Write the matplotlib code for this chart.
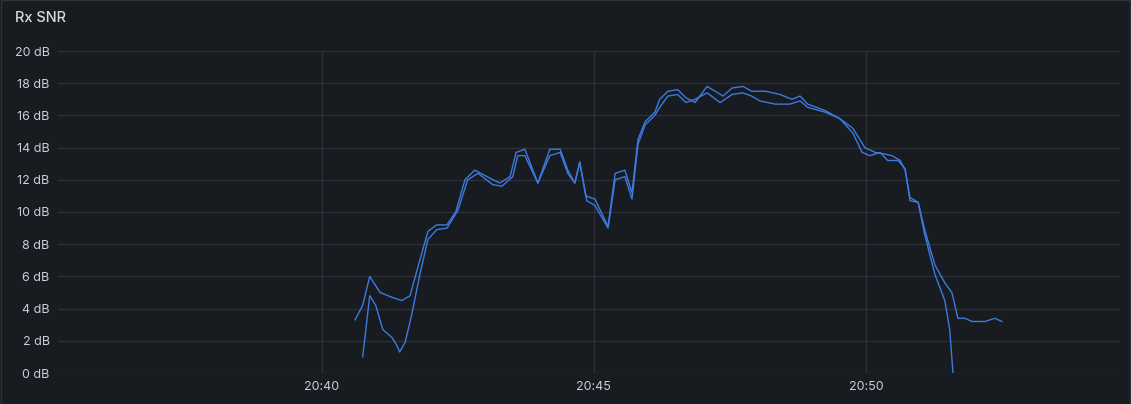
import matplotlib
matplotlib.use('Agg')
import matplotlib.pyplot as plt
from matplotlib.patches import Rectangle

plt.rcParams['font.family'] = ['Inter', 'DejaVu Sans']

# minutes after 20:40, SNR in dB
t_a = [0.61, 0.75, 0.88, 1.07, 1.29, 1.47, 1.62, 1.80, 1.95, 2.11, 2.30, 2.46, 2.63, 2.81,
       3.09, 3.27, 3.46, 3.57, 3.73, 3.97, 4.19, 4.38, 4.52, 4.65, 4.74, 4.85, 5.02, 5.26,
       5.39, 5.57, 5.70, 5.81, 5.94, 6.12, 6.21, 6.36, 6.54, 6.69, 6.86, 7.08, 7.28, 7.37,
       7.54, 7.74, 7.90, 8.16, 8.42, 8.64, 8.79, 8.93, 9.25, 9.52, 9.76, 9.98, 10.17, 10.35,
       10.48, 10.63, 10.72, 10.81, 10.96, 11.08, 11.27, 11.45, 11.58, 11.69, 11.82, 11.95,
       12.19, 12.37, 12.50]
snr_a = [3.3, 4.2, 6.0, 5.0, 4.7, 4.5, 4.8, 7.0, 8.8, 9.2, 9.2, 10.0, 12.0, 12.6,
         12.1, 11.8, 12.2, 13.7, 13.9, 11.8, 13.9, 13.9, 12.6, 11.8, 13.1, 11.0, 10.8, 9.1,
         12.4, 12.6, 11.2, 14.5, 15.6, 16.2, 17.0, 17.5, 17.6, 17.1, 16.8, 17.8, 17.4, 17.2,
         17.7, 17.8, 17.5, 17.5, 17.3, 17.0, 17.2, 16.7, 16.3, 15.8, 15.2, 14.0, 13.7, 13.6,
         13.5, 13.2, 12.6, 10.9, 10.6, 8.9, 6.7, 5.6, 5.0, 3.4, 3.4, 3.2,
         3.2, 3.4, 3.2]

t_b = [0.75, 0.88, 0.99, 1.12, 1.29, 1.38, 1.43, 1.53, 1.65, 1.80, 1.95, 2.11, 2.30, 2.50,
       2.68, 2.87, 3.14, 3.31, 3.51, 3.60, 3.73, 3.97, 4.19, 4.38, 4.52, 4.65, 4.74, 4.87,
       5.02, 5.26, 5.39, 5.57, 5.70, 5.81, 5.94, 6.12, 6.21, 6.36, 6.54, 6.69, 6.86, 7.08,
       7.32, 7.54, 7.74, 7.90, 8.05, 8.33, 8.60, 8.79, 8.93, 9.25, 9.52, 9.76, 9.93, 10.07,
       10.26, 10.40, 10.59, 10.72, 10.81, 10.96, 11.08, 11.27, 11.45, 11.54, 11.60]
snr_b = [1.0, 4.8, 4.2, 2.7, 2.2, 1.7, 1.3, 1.9, 3.6, 6.1, 8.3, 8.9, 9.0, 10.1,
         12.0, 12.4, 11.7, 11.6, 12.2, 13.5, 13.5, 11.8, 13.5, 13.7, 12.4, 11.8, 13.1, 10.7,
         10.4, 9.0, 12.0, 12.2, 10.8, 14.2, 15.4, 16.0, 16.5, 17.2, 17.3, 16.8, 17.0, 17.4,
         16.8, 17.3, 17.4, 17.2, 16.9, 16.7, 16.7, 16.9, 16.5, 16.2, 15.8, 14.9, 13.7, 13.5,
         13.7, 13.2, 13.2, 12.7, 10.7, 10.6, 8.6, 6.1, 4.5, 2.7, 0.0]

xticks = [0, 5, 10]
xtick_labels = ['20:40', '20:45', '20:50']
yticks = list(range(0, 21, 2))

bg = '#181b1f'
txt = '#c7d0d9'
grid = '#2c3036'
line_color = '#3d7ae0'

fig = plt.figure(figsize=(11.31, 4.04), dpi=100, facecolor=bg)
fig.patches.append(Rectangle((0.001, 0.001), 0.998, 0.998, transform=fig.transFigure,
                             fill=False, edgecolor='#2f3238', linewidth=1))
fig.text(15 / 1131, 1 - 18 / 404, 'Rx SNR', color='#d8d9da', fontsize=10.5,
         fontweight='medium', va='center', ha='left')

ax = fig.add_axes([58 / 1131, 31 / 404, 1062 / 1131, 322 / 404])
ax.set_facecolor(bg)
ax.plot(t_a, snr_a, color=line_color, linewidth=1, solid_joinstyle='round')
ax.plot(t_b, snr_b, color=line_color, linewidth=1, solid_joinstyle='round')

ax.set_xlim(-4.85, 14.67)
ax.set_ylim(0, 20)
ax.set_xticks(xticks)
ax.set_xticklabels(xtick_labels)
ax.set_yticks(yticks)
ax.set_yticklabels([f'{v} dB' for v in yticks])
ax.grid(True, color=grid, linewidth=1)
ax.tick_params(colors=txt, labelsize=9, length=0, pad=6)
for s in ax.spines.values():
    s.set_visible(False)

fig.savefig('out.png', dpi=100, facecolor=bg)
